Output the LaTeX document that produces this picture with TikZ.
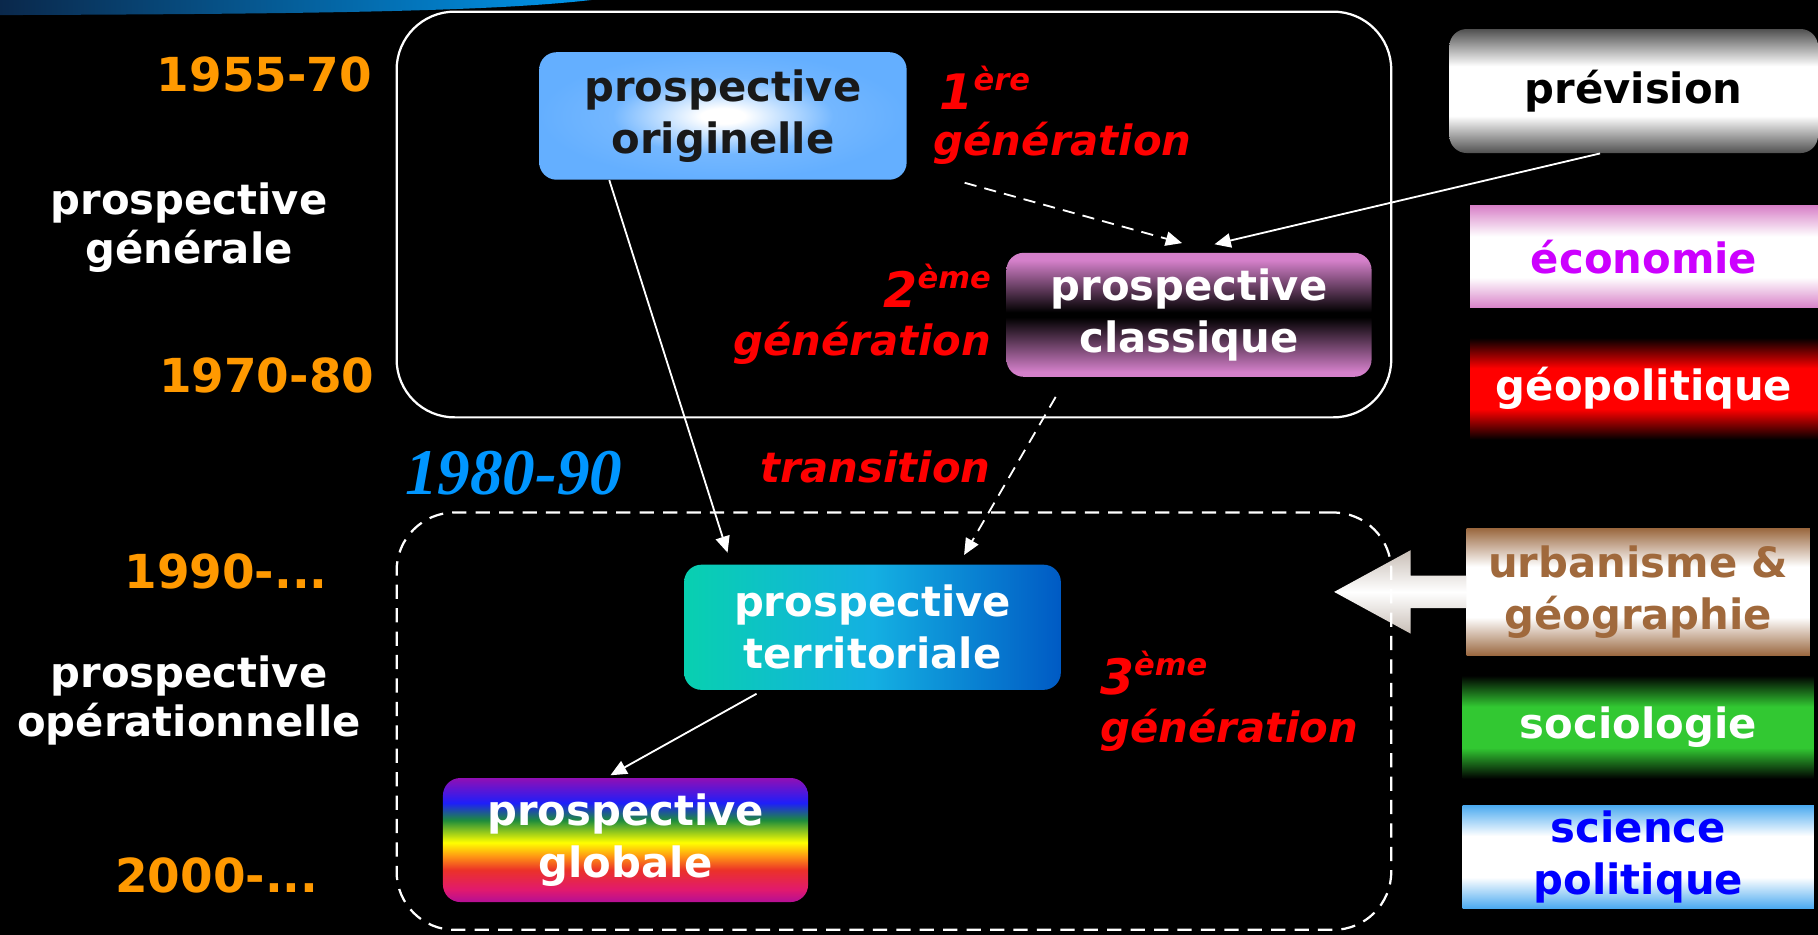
\documentclass[tikz,border=0pt]{standalone}
\usepackage{fontspec}
\setmainfont{DejaVu Sans}
\newfontfamily\decadefont{Liberation Serif}
\usepackage{xcolor}
\usepackage{tikz}
\usetikzlibrary{shapes.geometric, arrows, arrows.meta, positioning, calc}

\definecolor{yearorange}{RGB}{255,153,0}
\definecolor{decadeblue}{RGB}{0,150,255}
\definecolor{barnavy}{RGB}{10,40,75}
\definecolor{barblue}{RGB}{0,150,235}
\definecolor{skyb}{RGB}{100,175,255}
\definecolor{classpurple}{RGB}{212,128,202}
\definecolor{terrteal}{RGB}{8,208,176}
\definecolor{terrcyan}{RGB}{20,176,226}
\definecolor{terrblue}{RGB}{0,90,196}
\definecolor{prevgray}{RGB}{80,80,80}
\definecolor{econpink}{RGB}{216,130,200}
\definecolor{econviolet}{RGB}{204,0,255}
\definecolor{urbaedge}{RGB}{155,105,65}
\definecolor{urbabrown}{RGB}{160,105,60}
\definecolor{socgreen}{RGB}{50,200,50}
\definecolor{scipoedge}{RGB}{75,170,240}
\definecolor{scipoblue}{RGB}{0,0,255}
\definecolor{arrowtaupe}{RGB}{200,190,182}
\definecolor{rbpurple}{RGB}{145,15,180}
\definecolor{rbblue}{RGB}{30,30,250}
\definecolor{rbgreen}{RGB}{30,140,60}
\definecolor{rbyellow}{RGB}{255,255,0}
\definecolor{rborange}{RGB}{255,150,20}
\definecolor{rbred}{RGB}{235,50,40}
\definecolor{rbpink}{RGB}{225,25,110}
\definecolor{rbmag}{RGB}{180,15,150}

% band shadings: edge colour top and bottom, plain band in the middle
\newcommand{\bandshading}[3]{%
  \pgfdeclareverticalshading{#1}{100bp}{color(0bp)=(#2); color(25bp)=(#2); color(40bp)=(#3); color(60bp)=(#3); color(75bp)=(#2); color(100bp)=(#2)}}
\bandshading{prevshade}{prevgray}{white}
\bandshading{econshade}{econpink}{white}
\bandshading{geoshade}{black}{red}
\bandshading{urbashade}{urbaedge}{white}
\bandshading{socshade}{black}{socgreen}
\bandshading{sciposhade}{scipoedge}{white}
\pgfdeclareverticalshading{classshade}{100bp}{color(0bp)=(classpurple); color(27bp)=(classpurple); color(49bp)=(black); color(51bp)=(black); color(72bp)=(classpurple); color(100bp)=(classpurple)}
\pgfdeclareverticalshading{rainbowshade}{100bp}{color(0bp)=(rbmag); color(25bp)=(rbmag); color(30bp)=(rbpink); color(38bp)=(rbred); color(43.5bp)=(rborange); color(49bp)=(rbyellow); color(58bp)=(rbgreen); color(65bp)=(rbblue); color(75bp)=(rbpurple); color(100bp)=(rbpurple)}
\pgfdeclareradialshading{glowshade}{\pgfpoint{0bp}{0bp}}{color(0bp)=(white); color(3bp)=(white); color(15bp)=(skyb!90!white); color(25bp)=(skyb); color(50bp)=(skyb)}

\newcommand{\boxfont}{\bfseries\fontsize{20.5}{25.6}\selectfont}
\newcommand{\yearfont}{\bfseries\fontsize{23}{23}\selectfont}
\newcommand{\genfont}{\bfseries\itshape\fontsize{20.5}{24}\selectfont}
\newcommand{\supnum}[2]{{\fontsize{24}{24}\selectfont #1}\raisebox{0.45em}{\fontsize{15}{15}\selectfont #2}}

\begin{document}
\begin{tikzpicture}[x=0.02cm, y=-0.02cm]
\tikzstyle{stage} = [rectangle, rounded corners=0.3cm, minimum width=6.3cm, minimum height=2.14cm, align=center, inner sep=0pt, font=\boxfont]
\tikzstyle{field} = [rectangle, minimum width=6cm, minimum height=1.76cm, align=center, inner sep=0pt, font=\boxfont]
\tikzstyle{group} = [rectangle, draw=white, line width=1.1pt, rounded corners=1cm, minimum width=17.16cm]
\tikzstyle{year} = [text=yearorange, font=\yearfont, inner sep=0pt]
\tikzstyle{period} = [text=white, align=center, inner sep=0pt, font=\bfseries\fontsize{20.5}{24}\selectfont]
\tikzstyle{gen} = [text=red, font=\genfont, inner sep=0pt]
\tikzstyle{link} = [draw=white, line width=0.9pt, -{Triangle[length=8pt,width=7pt]}]
\tikzstyle{weaklink} = [link, dash pattern=on 6pt off 4pt]

\useasboundingbox (0,0) rectangle (1568,806);
\fill[black] (0,0) rectangle (1568,806);
\shade[left color=barnavy, right color=barblue] (0,0) -- (510,0) .. controls (430,9) and (300,12) .. (0,13) -- cycle;

% generations
\node (genbox) [group, minimum height=7cm] at (771,185) {};

\node (orig) [stage, shading=glowshade, text=black!90, minimum width=6.34cm, minimum height=2.2cm] at (623.5,100) {prospective\\originelle};
\node (clas) [stage, shading=classshade, text=white] at (1025.5,271.5) {prospective\\classique};
\node (terr) [stage, left color=terrteal, right color=terrblue, middle color=terrcyan, text=white, minimum width=6.5cm, minimum height=2.16cm] at (752.5,541) {prospective\\territoriale};
\node (glob) [stage, shading=rainbowshade, text=white] at (539.5,724.5) {prospective\\globale};

% disciplines
\node (prev) [stage, shading=prevshade, text=black, minimum width=6.36cm] at (1409,78.5) {prévision};
\node (econ) [field, shading=econshade, text=econviolet] at (1418,221.5) {économie};
\node (geo) [field, shading=geoshade, text=white, below=0.5cm of econ] {géopolitique};
\node (urba) [field, shading=urbashade, text=urbabrown, minimum width=5.92cm, minimum height=2.18cm] at (1413,510.5) {urbanisme \&\\géographie};
\node (soc) [field, shading=socshade, text=white, minimum width=6.06cm, minimum height=1.78cm, below=0.34cm of urba] {sociologie};
\node (scipo) [field, shading=sciposhade, text=scipoblue, minimum width=6.06cm, minimum height=1.78cm, below=0.44cm of soc] {science\\politique};

\shade[top color=arrowtaupe, bottom color=arrowtaupe, middle color=white] (urba.west) ++(0,-14) -- ++(-48,0) -- ++(0,-22) -- ++(-66,36) -- ++(66,36) -- ++(0,-22) -- ++(48,0) -- cycle;
\node (opbox) [group, dash pattern=on 7pt off 4.5pt, minimum height=7.2cm] at (771,622) {};

% periods
\node (y1) [year] at (228,64) {1955-70};
\node (y2) [year] at (230,324) {1970-80};
\node (y3) [year] at (195,493) {1990-...};
\node (y4) [year] at (187,755) {2000-...};
\node (gen) [period] at (163,196) {prospective\\générale};
\node (oper) [period] at (163,604) {prospective\\opérationnelle};
\node (dec) [text=decadeblue, inner sep=0pt, font=\decadefont\bfseries\itshape\fontsize{32}{32}\selectfont] at (443,408) {1980-90};

\node (gen1) [gen] at (916.5,124) {génération};
\node (sup1) [gen, above right=0.21cm and 0.1cm of gen1.north west] {\supnum{1}{ère}};
\node (gen2) [gen] at (743.5,296) {génération};
\node (sup2) [gen, above left=0.24cm and 0cm of gen2.north east] {\supnum{2}{ème}};
\node (trans) [gen] at (755,403) {transition};
\node (gen3) [gen] at (1060,630) {génération};
\node (sup3) [gen, above right=0.23cm and 0cm of gen3.north west] {\supnum{3}{ème}};

% links
\draw [link] ($(orig.south)+(-98,0)$) -- ($(terr.north)+(-125,-10)$);
\draw [weaklink] ($(gen1.south west)+(27,15)$) -- ($(clas.north)+(-6,-8)$);
\draw [link] ($(prev.south)+(-29,0)$) -- ($(clas.north)+(22,-7)$);
\draw [weaklink] ($(clas.south)+(-115,17)$) -- ($(terr.north)+(79,-8)$);
\draw [link] ($(terr.south)+(-100,3)$) -- ($(glob.north)+(-13,-2)$);

\end{tikzpicture}
\end{document}
